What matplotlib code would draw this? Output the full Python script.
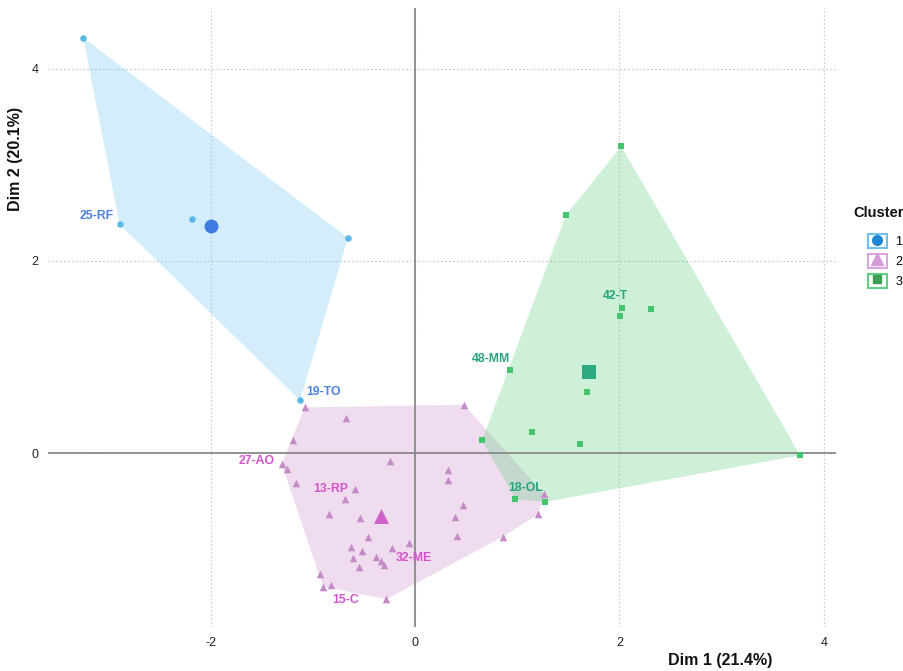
import matplotlib
matplotlib.use("Agg")
import matplotlib.pyplot as plt
from matplotlib.patches import Rectangle, Polygon
from matplotlib.lines import Line2D
from matplotlib.legend_handler import HandlerTuple
import numpy as np

plt.rcParams['font.family'] = ['Liberation Sans', 'DejaVu Sans']
plt.rcParams['axes.unicode_minus'] = False

# cluster 1 (circles)
c1_x = [-3.245, -2.89, -2.18, -0.655, -1.124]
c1_y = [4.32, 2.38, 2.43, 2.24, 0.548]
c1_center = (-2.0, 2.357)

# cluster 2 (triangles)
c2_x = [-1.078, -0.674, 0.482, -1.193, -0.241, -1.303, -1.248, 0.326, 0.326,
        -1.160, -0.583, -0.687, 1.264, 0.466, -0.837, -0.534, 0.394, 1.209,
        -0.456, 0.407, 0.860, -0.629, -0.518, -0.228, -0.059, -0.609, -0.384,
        -0.332, -0.300, -0.547, -0.932, -0.899, -0.818, -0.281]
c2_y = [0.475, 0.367, 0.502, 0.138, -0.083, -0.114, -0.163, -0.180, -0.284,
        -0.312, -0.374, -0.475, -0.429, -0.537, -0.634, -0.676, -0.665, -0.634,
        -0.873, -0.863, -0.873, -0.974, -1.019, -0.988, -0.932, -1.095, -1.078,
        -1.123, -1.164, -1.182, -1.255, -1.390, -1.375, -1.521]
c2_center = (-0.329, -0.651)

# cluster 3 (squares)
c3_x = [2.02, 1.48, 2.03, 2.01, 2.31, 0.93, 1.68, 1.147, 1.62, 0.658, 0.984, 1.27, 3.77]
c3_y = [3.19, 2.48, 1.51, 1.43, 1.50, 0.863, 0.637, 0.215, 0.094, 0.132, -0.481, -0.509, -0.024]
c3_center = (1.70, 0.839)

# point labels (text, x, y, cluster)
lab_text = ['25-RF', '19-TO', '27-AO', '13-RP', '32-ME', '15-C', '18-OL', '48-MM', '42-T']
lab_x = [-3.118, -0.896, -1.547, -0.821, -0.010, -0.678, 1.082, 0.743, 1.958]
lab_y = [2.464, 0.631, -0.087, -0.374, -1.095, -1.528, -0.360, 0.977, 1.629]
lab_cl = [1, 1, 2, 2, 2, 2, 3, 3, 3]

pt_col = {1: '#5BB8E6', 2: '#C58BC9', 3: '#45C56E'}
fill_col = {1: '#6EC6F0', 2: '#CA91CD', 3: '#5FCA80'}
cen_col = {1: '#3D7BE0', 2: '#CF5FCB', 3: '#2DAA82'}
txt_col = {1: '#4A80E8', 2: '#D453CC', 3: '#27A57E'}
box_col = {1: '#6EC0EE', 2: '#D9A6DD', 3: '#5FCF84'}
leg_col = {1: '#1F86D4', 2: '#D69CDA', 3: '#3E9C55'}
mk = {1: 'o', 2: '^', 3: 's'}


def hull(xs, ys):
    pts = sorted(set(zip(xs, ys)))
    def cross(o, a, b):
        return (a[0]-o[0])*(b[1]-o[1]) - (a[1]-o[1])*(b[0]-o[0])
    lower, upper = [], []
    for p in pts:
        while len(lower) >= 2 and cross(lower[-2], lower[-1], p) <= 0:
            lower.pop()
        lower.append(p)
    for p in reversed(pts):
        while len(upper) >= 2 and cross(upper[-2], upper[-1], p) <= 0:
            upper.pop()
        upper.append(p)
    return lower[:-1] + upper[:-1]


fig = plt.figure(figsize=(9.04, 6.71), dpi=100)
ax = fig.add_axes([48/904, 1-627/671, (836-48)/904, (627-8)/671])

data = {1: (c1_x, c1_y, c1_center), 2: (c2_x, c2_y, c2_center), 3: (c3_x, c3_y, c3_center)}

for k in [1, 2, 3]:
    xs, ys, _ = data[k]
    ax.add_patch(Polygon(hull(xs, ys), closed=True, facecolor=fill_col[k],
                         alpha=0.3, edgecolor='none', zorder=1))

ax.axhline(0, color='#8a8a8a', lw=1.3, zorder=2)
ax.axvline(0, color='#8a8a8a', lw=1.3, zorder=2)

sizes = {1: 22, 2: 30, 3: 20}
csizes = {1: 100, 2: 115, 3: 95}
for k in [1, 2, 3]:
    xs, ys, cen = data[k]
    ax.scatter(xs, ys, s=sizes[k], marker=mk[k], color=pt_col[k], lw=0, zorder=3)
    ax.scatter([cen[0]], [cen[1]], s=csizes[k], marker=mk[k], color=cen_col[k], lw=0, zorder=4)

for t, x, y, k in zip(lab_text, lab_x, lab_y, lab_cl):
    ax.text(x, y, t, color=txt_col[k], fontsize=8.8, fontweight='bold',
            ha='center', va='center', zorder=5)

ax.set_xlim(-3.59, 4.12)
ax.set_ylim(-1.81, 4.63)
ax.set_xticks([-2, 0, 2, 4])
ax.set_yticks([0, 2, 4])
ax.grid(True, color='#c8c8c8', linestyle=(0, (1.5, 2)), lw=0.8, zorder=0)
ax.set_axisbelow(True)
for s in ax.spines.values():
    s.set_visible(False)
ax.tick_params(length=0, labelsize=9, colors='#222222', pad=7)

fig.text(720/904, 1-660/671, 'Dim 1 (21.4%)', ha='center', va='center',
         fontsize=11.5, fontweight='bold', color='#111111')
fig.text(16/904, 1-159/671, 'Dim 2 (20.1%)', ha='center', va='center',
         rotation=90, fontsize=11.5, fontweight='bold', color='#111111')

# legend
fig.text(853/904, 1-213/671, 'Cluster', ha='left', va='center',
         fontsize=10.5, fontweight='bold', color='#111111')
handles = []
msz = {1: 7, 2: 8, 3: 6}
for k in [1, 2, 3]:
    box = Rectangle((0, 0), 1, 1, facecolor='white', edgecolor=box_col[k], lw=1.5)
    m = Line2D([], [], marker=mk[k], color=leg_col[k], ls='', ms=msz[k])
    handles.append((box, m))
fig.legend(handles, ['1', '2', '3'], handler_map={tuple: HandlerTuple(ndivide=1)},
           loc='upper left', bbox_to_anchor=(868/904, 1-234/671),
           frameon=False, fontsize=9, handlelength=1.5, handleheight=1.35,
           labelspacing=0.45, handletextpad=0.7, borderpad=0, borderaxespad=0)

fig.savefig('out.png', dpi=100)
